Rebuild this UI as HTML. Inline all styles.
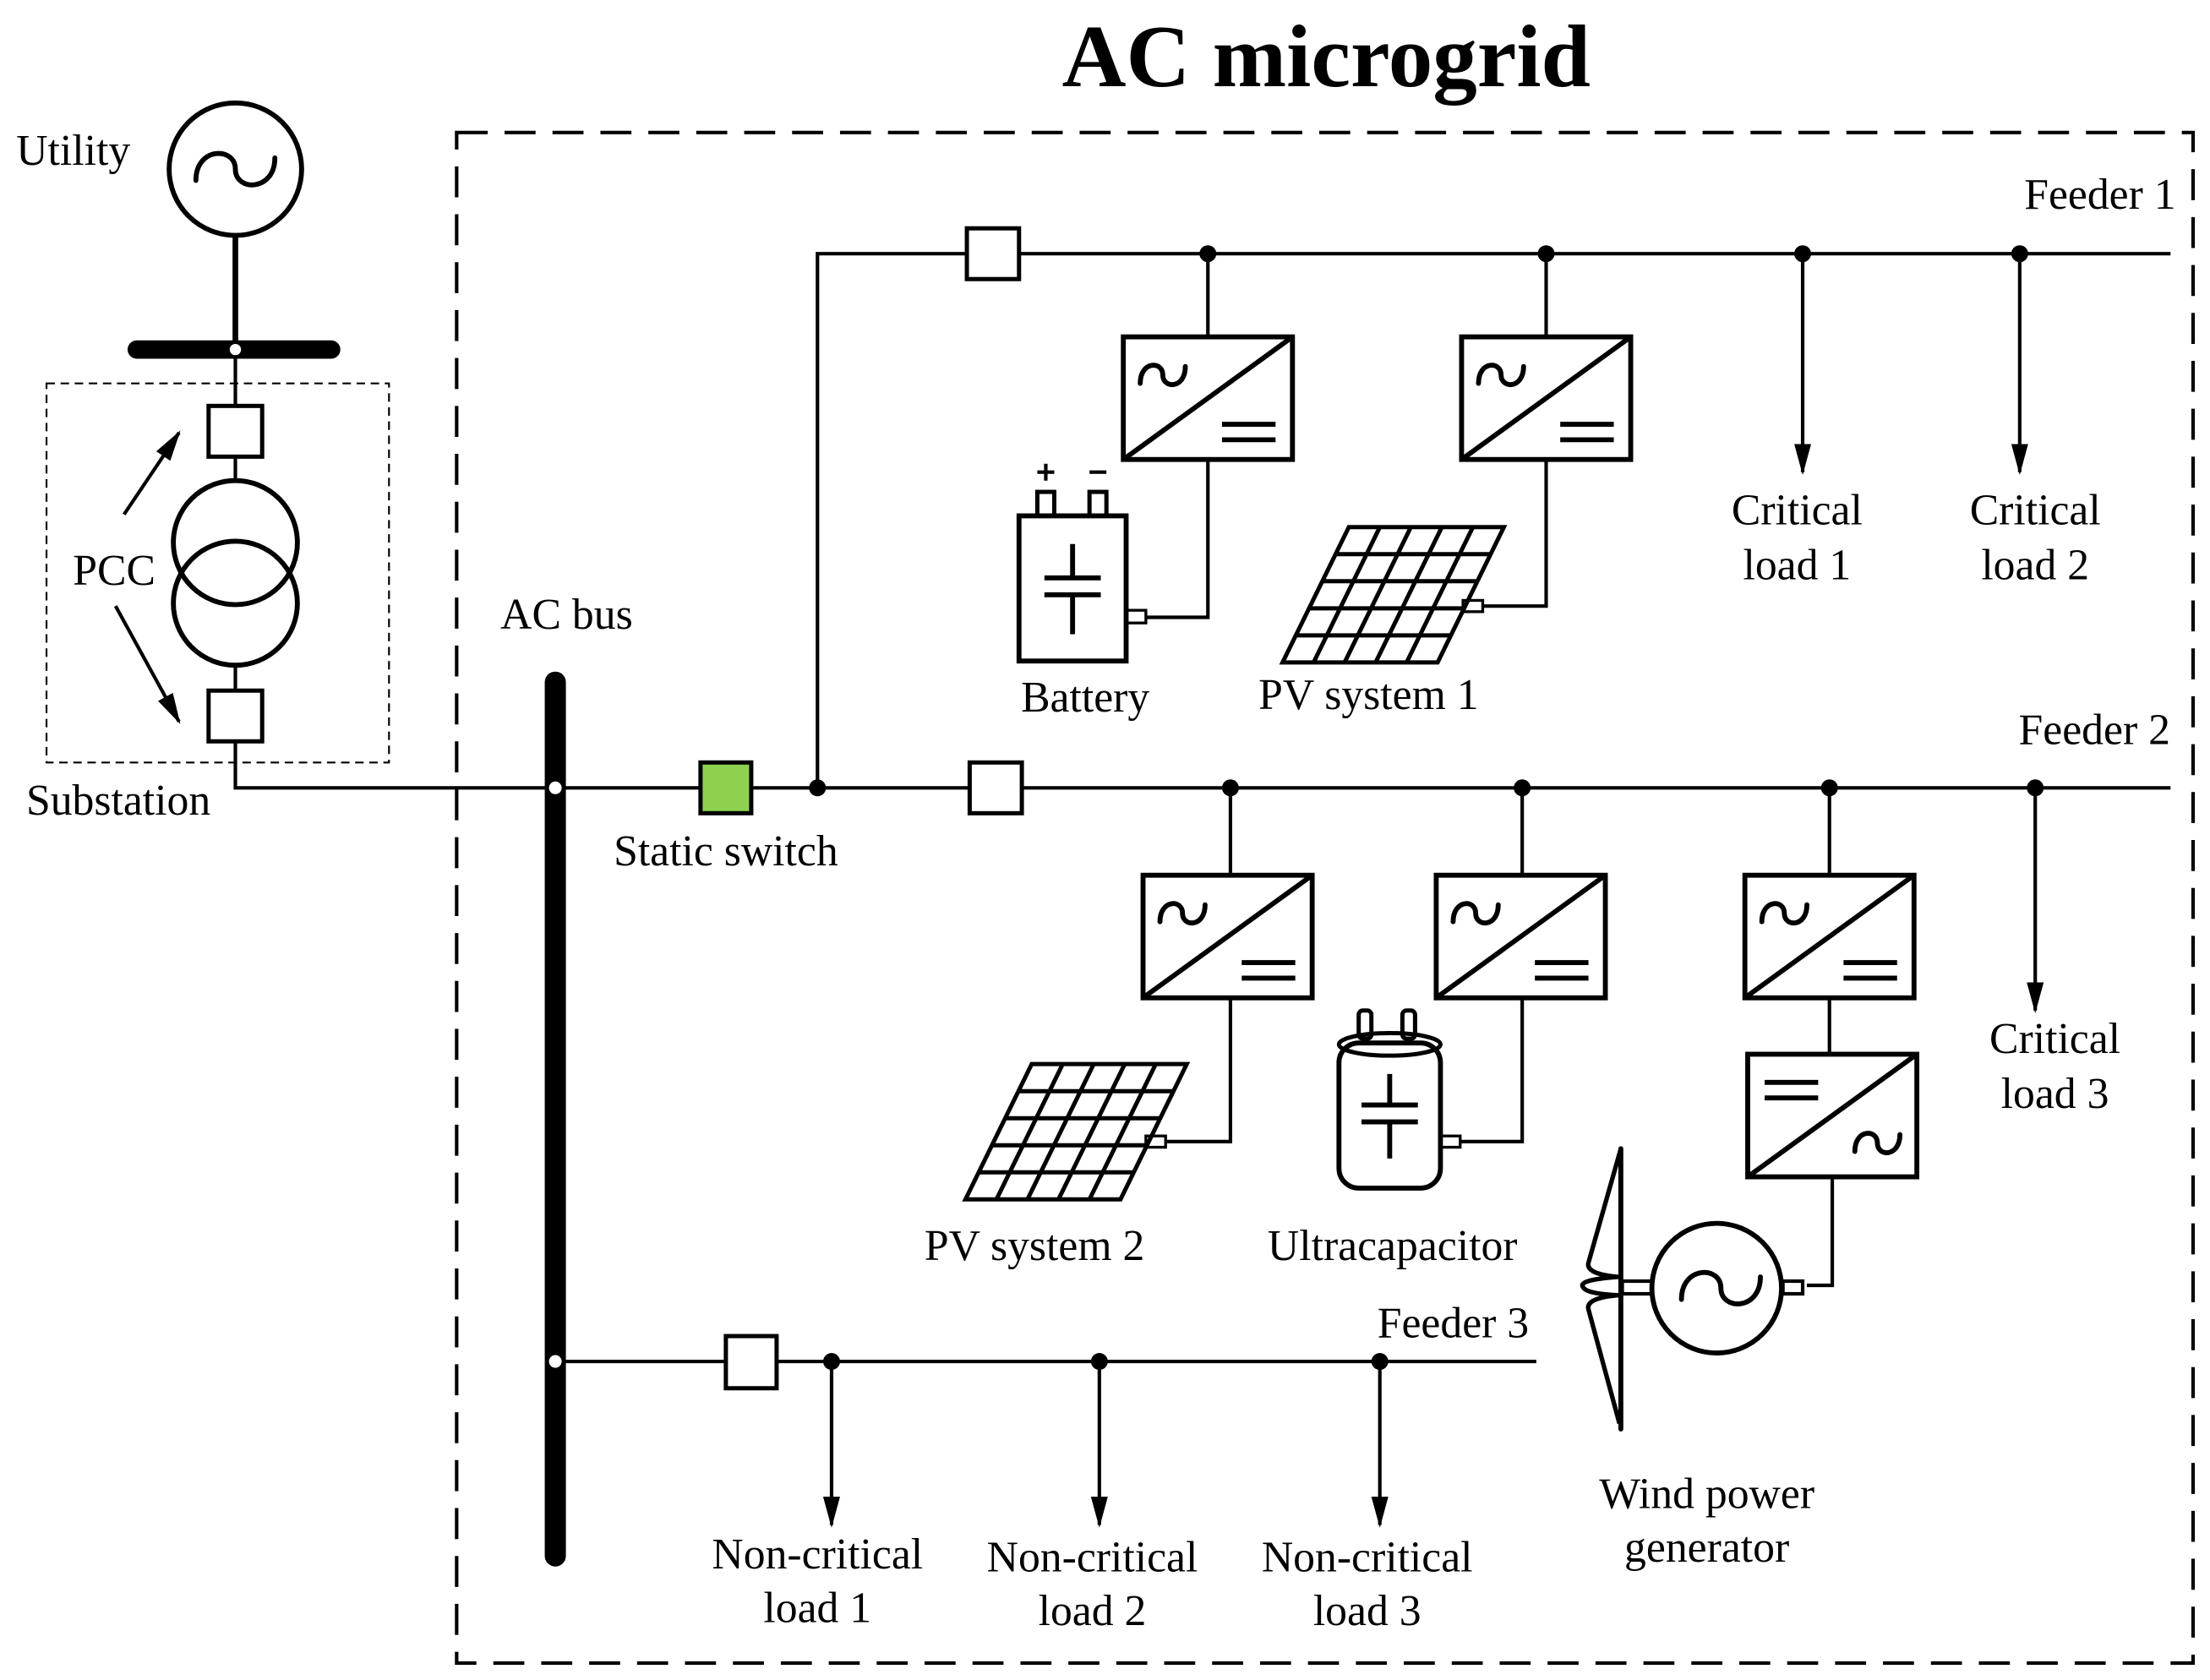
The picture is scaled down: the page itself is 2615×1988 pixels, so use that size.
<!DOCTYPE html>
<html><head><meta charset="utf-8"><style>html,body{margin:0;padding:0;background:#fff}svg{display:block}</style></head>
<body>
<svg width="2615" height="1988" viewBox="0 0 1568 1192" xmlns="http://www.w3.org/2000/svg" font-family="Liberation Serif, serif">
<defs>
<marker id="ar" markerWidth="22" markerHeight="12" refX="20" refY="6" orient="auto" markerUnits="userSpaceOnUse"><path d="M0,0 L22,6 L0,12 Z" fill="#000"/></marker>
<g id="sine"><path d="M0,6 C0,-10 16,-10 16,0 S32,10 32,-6" fill="none" stroke="#000" stroke-width="3.5" stroke-linecap="round"/></g>
<g id="conv"><rect x="0" y="0" width="120" height="87" fill="#fff" stroke="#000" stroke-width="3.5"/><line x1="0" y1="87" x2="120" y2="0" stroke="#000" stroke-width="3.5"/><use href="#sine" x="12" y="27"/><line x1="70" y1="62" x2="108" y2="62" stroke="#000" stroke-width="3.5"/><line x1="70" y1="73" x2="108" y2="73" stroke="#000" stroke-width="3.5"/></g>
<g id="convr"><rect x="0" y="0" width="120" height="87" fill="#fff" stroke="#000" stroke-width="3.5"/><line x1="0" y1="87" x2="120" y2="0" stroke="#000" stroke-width="3.5"/><line x1="12" y1="20" x2="50" y2="20" stroke="#000" stroke-width="3.5"/><line x1="12" y1="31" x2="50" y2="31" stroke="#000" stroke-width="3.5"/><use href="#sine" x="76" y="63"/></g>
<g id="pv" fill="none" stroke="#000" stroke-width="3">
<path d="M0,96 L47,0 L157,0 L110,96 Z"/>
<path d="M9.4,76.8 L119.4,76.8 M18.8,57.6 L128.8,57.6 M28.2,38.4 L138.2,38.4 M37.6,19.2 L147.6,19.2"/>
<path d="M22,96 L69,0 M44,96 L91,0 M66,96 L113,0 M88,96 L135,0"/>
</g>
</defs>
<g stroke="#000" fill="none">
<text x="941" y="61" font-size="63" font-weight="bold" text-anchor="middle" fill="#000" stroke="none">AC microgrid</text>
<rect x="324" y="94" width="1232" height="1086" stroke-width="2.5" stroke-dasharray="22,12"/>
<circle cx="167" cy="120" r="47" stroke-width="3.5"/>
<path d="M139,128 C139,104 167,104 167,120 S195,136 195,112" stroke-width="3.5" stroke-linecap="round"/>
<line x1="167" y1="167" x2="167" y2="248" stroke-width="4"/>
<line x1="97" y1="248" x2="235" y2="248" stroke-width="13" stroke-linecap="round"/>
<circle cx="167" cy="248" r="4" fill="#fff" stroke="none"/>
<line x1="167" y1="252" x2="167" y2="288" stroke-width="2.5"/>
<rect x="148" y="288" width="38" height="36" stroke-width="3" fill="#fff"/>
<line x1="167" y1="324" x2="167" y2="342" stroke-width="2.5"/>
<circle cx="167" cy="385" r="44" stroke-width="3.5"/>
<circle cx="167" cy="428" r="44" stroke-width="3.5"/>
<line x1="167" y1="472" x2="167" y2="490" stroke-width="2.5"/>
<rect x="148" y="490" width="38" height="36" stroke-width="3" fill="#fff"/>
<polyline points="167,526 167,559 1540,559" stroke-width="2.5"/>
<rect x="33" y="272" width="243" height="269" stroke-width="1.3" stroke-dasharray="6,4"/>
<line x1="88" y1="365" x2="127" y2="307" stroke-width="2.5" marker-end="url(#ar)"/>
<line x1="82" y1="430" x2="127" y2="512" stroke-width="2.5" marker-end="url(#ar)"/>
<line x1="394" y1="484" x2="394" y2="1104" stroke-width="15" stroke-linecap="round"/>
<circle cx="394" cy="559" r="4.5" fill="#fff" stroke="none"/>
<rect x="497" y="541" width="36" height="36" fill="#8ed150" stroke-width="3"/>
<circle cx="580" cy="559" r="6" fill="#000" stroke="none"/>
<polyline points="580,559 580,180 1540,180" stroke-width="2.5"/>
<rect x="686" y="162" width="37" height="36" stroke-width="3" fill="#fff"/>
<rect x="688" y="541" width="37" height="36" stroke-width="3" fill="#fff"/>
<g fill="#000" stroke="none"><circle cx="857" cy="180" r="6"/><circle cx="1097" cy="180" r="6"/><circle cx="1279" cy="180" r="6"/><circle cx="1433" cy="180" r="6"/>
<circle cx="873" cy="559" r="6"/><circle cx="1080" cy="559" r="6"/><circle cx="1298" cy="559" r="6"/><circle cx="1444" cy="559" r="6"/>
<circle cx="590" cy="966" r="6"/><circle cx="780" cy="966" r="6"/><circle cx="979" cy="966" r="6"/></g>
<line x1="857" y1="180" x2="857" y2="239" stroke-width="2.5"/>
<line x1="1097" y1="180" x2="1097" y2="239" stroke-width="2.5"/>
<use href="#conv" x="797" y="239"/>
<use href="#conv" x="1037" y="239"/>
<polyline points="857,326 857,438 813,438" stroke-width="2.5"/>
<polyline points="1097,326 1097,430 1052,430" stroke-width="2.5"/>
<line x1="1279" y1="180" x2="1279" y2="335" stroke-width="2.5" marker-end="url(#ar)"/>
<line x1="1433" y1="180" x2="1433" y2="335" stroke-width="2.5" marker-end="url(#ar)"/>
<rect x="723" y="366" width="76" height="103" stroke-width="3.5" fill="#fff"/>
<rect x="736" y="349" width="12" height="17" stroke-width="3"/>
<rect x="773" y="349" width="12" height="17" stroke-width="3"/>
<rect x="799" y="433" width="14" height="9" stroke-width="2"/>
<path d="M736,335 h12 M742,329 v12 M773,335 h12" stroke-width="2.5"/>
<path d="M761,386 v24 M741,410 h40 M741,422 h40 M761,422 v28" stroke-width="3.5"/>
<use href="#pv" x="910" y="374"/>
<rect x="1038" y="426" width="14" height="8" stroke-width="2"/>
<line x1="873" y1="559" x2="873" y2="621" stroke-width="2.5"/>
<line x1="1080" y1="559" x2="1080" y2="621" stroke-width="2.5"/>
<line x1="1298" y1="559" x2="1298" y2="621" stroke-width="2.5"/>
<use href="#conv" x="811" y="621"/>
<use href="#conv" x="1019" y="621"/>
<use href="#conv" x="1238" y="621"/>
<line x1="1298" y1="708" x2="1298" y2="748" stroke-width="2.5"/>
<use href="#convr" x="1240" y="748"/>
<polyline points="1300,835 1300,912 1282,912" stroke-width="2.5"/>
<line x1="1444" y1="559" x2="1444" y2="717" stroke-width="2.5" marker-end="url(#ar)"/>
<use href="#pv" x="685" y="755"/>
<rect x="813" y="806" width="14" height="8" stroke-width="2"/>
<polyline points="873,708 873,810 827,810" stroke-width="2.5"/>
<rect x="950" y="740" width="72" height="103" rx="14" stroke-width="3.5" fill="#fff"/>
<ellipse cx="986" cy="741" rx="36" ry="8" stroke-width="3"/>
<rect x="964" y="717" width="9" height="20" rx="3" stroke-width="3"/>
<rect x="995" y="717" width="9" height="20" rx="3" stroke-width="3"/>
<path d="M986,762 v22 M966,784 h40 M966,796 h40 M986,796 v26" stroke-width="3.5"/>
<rect x="1022" y="806" width="14" height="8" stroke-width="2"/>
<polyline points="1080,708 1080,810 1036,810" stroke-width="2.5"/>
<circle cx="1218" cy="914" r="46" stroke-width="3.5"/>
<path d="M1193,922 C1193,898 1221,898 1221,914 S1249,930 1249,906" stroke-width="3.5" stroke-linecap="round"/>
<rect x="1151" y="909" width="21" height="9" stroke-width="2.5"/>
<rect x="1265" y="909" width="14" height="9" stroke-width="2.5"/>
<path d="M1150,815 V1014" stroke-width="3.5" stroke-linecap="round"/>
<path d="M1150,815 L1127,896 Q1125,904 1148,906 Q1120,908 1123,913 Q1125,918 1148,919 Q1125,921 1127,929 L1149,1010" stroke-width="3.2" stroke-linejoin="round"/>
<line x1="394" y1="966" x2="1090" y2="966" stroke-width="2.5"/>
<circle cx="394" cy="966" r="4.5" fill="#fff" stroke="none"/>
<rect x="515" y="948" width="36" height="37" stroke-width="3" fill="#fff"/>
<line x1="590" y1="966" x2="590" y2="1082" stroke-width="2.5" marker-end="url(#ar)"/>
<line x1="780" y1="966" x2="780" y2="1082" stroke-width="2.5" marker-end="url(#ar)"/>
<line x1="979" y1="966" x2="979" y2="1082" stroke-width="2.5" marker-end="url(#ar)"/>
</g>
<g font-size="31" fill="#000" text-anchor="middle">
<text x="52" y="117">Utility</text>
<text x="81" y="415">PCC</text>
<text x="84" y="578">Substation</text>
<text x="402" y="446">AC bus</text>
<text x="515" y="614">Static switch</text>
<text x="1490" y="148">Feeder 1</text>
<text x="1486" y="528">Feeder 2</text>
<text x="1031" y="949">Feeder 3</text>
<text x="1275" y="372">Critical</text><text x="1275" y="411">load 1</text>
<text x="1444" y="372">Critical</text><text x="1444" y="411">load 2</text>
<text x="1458" y="747">Critical</text><text x="1458" y="786">load 3</text>
<text x="770" y="505">Battery</text>
<text x="971" y="503">PV system 1</text>
<text x="734" y="894">PV system 2</text>
<text x="988" y="894">Ultracapacitor</text>
<text x="1211" y="1070">Wind power</text><text x="1211" y="1108">generator</text>
<text x="580" y="1113">Non-critical</text><text x="580" y="1151">load 1</text>
<text x="775" y="1115">Non-critical</text><text x="775" y="1153">load 2</text>
<text x="970" y="1115">Non-critical</text><text x="970" y="1153">load 3</text>
</g>
</svg>
</body></html>
